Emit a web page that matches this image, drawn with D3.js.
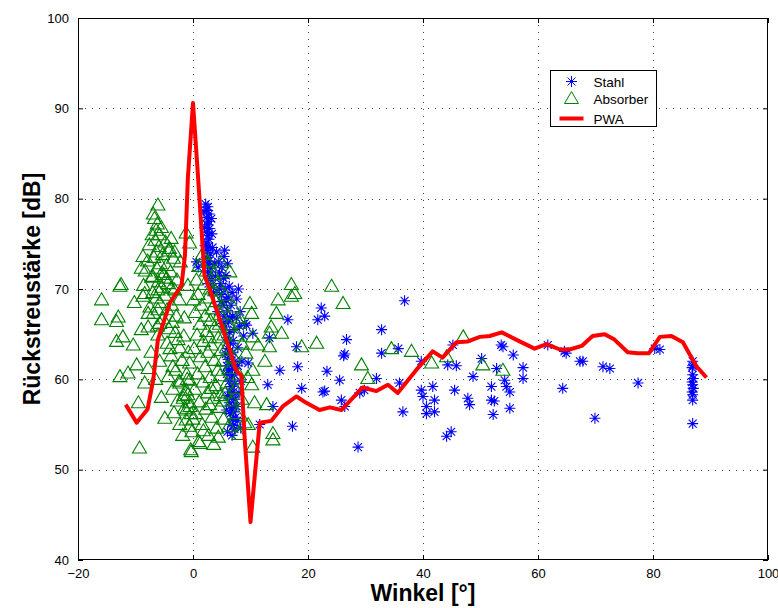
<!DOCTYPE html>
<html>
<head>
<meta charset="utf-8">
<script src="https://cdn.jsdelivr.net/npm/d3@7"></script>
<style>
  body { margin: 0; background: #fff; }
  text { font-family: "Liberation Sans", Arial, sans-serif; }
</style>
</head>
<body>
<svg id="chart" width="778" height="608"></svg>
<script>
// ---- data ----
const xTicks = [-20, 0, 20, 40, 60, 80, 100];
const yTicks = [40, 50, 60, 70, 80, 90, 100];

// Stahl: [winkel, dB]
const stahl = [
  // dense column near 2-3 deg
  [2.2,79.4],[2.6,79.1],[2.4,78.7],[2.8,78.3],[2.3,77.9],[2.7,77.5],[2.5,77.1],[2.9,76.7],
  [2.4,76.3],[2.6,75.9],[2.8,75.5],[2.3,75.1],[2.7,74.7],[2.5,74.3],[3.0,73.9],[2.4,73.5],
  [2.8,73.1],[2.6,72.7],[3.1,72.3],[2.5,71.9],[2.9,71.5],[3.3,71.0],[2.7,70.6],[3.5,70.2],
  [1.9,78.6],[3.2,77.8],[2.0,76.8],[3.3,76.1],[2.1,74.8],[3.4,74.6],
  [0.6,73.0],[0.9,72.4],[4.1,74.1],[5.5,74.3],[3.8,72.8],
  // dense column near 5-7 deg
  [4.4,73.0],[5.0,72.4],[4.6,71.8],[5.3,71.2],[4.8,70.6],[5.6,70.0],[5.0,69.4],[5.8,68.8],
  [5.2,68.2],[6.0,67.6],[5.4,67.0],[6.2,66.4],[5.6,65.8],[6.4,65.2],[5.8,64.6],[6.5,64.0],
  [6.0,63.4],[6.6,62.8],[6.1,62.2],[6.7,61.6],[6.2,61.0],[6.8,60.4],[6.3,59.8],[6.6,59.2],
  [6.4,58.6],[6.8,58.0],[6.3,57.4],[6.7,56.8],[6.5,56.2],[6.9,55.6],[6.6,55.0],[7.2,54.5],
  [6.0,54.2],[7.0,57.0],[5.9,61.5],[7.1,65.5],
  [5.4,73.6],[6.0,72.8],[5.7,71.5],[6.3,70.3],[6.1,69.1],[6.6,68.2],[6.9,67.0],[6.4,66.8],
  [7.0,64.3],[6.9,63.0],[7.3,62.0],[6.9,61.2],[7.2,59.5],[7.0,58.6],[7.3,57.8],[7.1,56.4],
  [7.4,55.8],[7.0,54.9],[5.9,60.6],[6.0,58.2],[5.8,56.6],[5.7,62.8],[6.2,64.3],[5.2,66.2],
  [4.9,68.6],[4.6,70.0],[3.9,71.4],[3.6,69.6],[4.3,67.5],[7.6,68.9],[8.1,65.9],[7.8,61.5],
  [8.3,59.8],[7.7,55.4],[6.8,53.8],
  [7.5,66.8],[8.2,67.5],[9.0,66.2],[7.8,63.5],[8.5,62.0],[9.6,61.8],[7.2,60.5],[8.0,58.5],
  [7.6,57.0],[8.3,54.6],[7.9,70.0],[6.8,69.6],[8.8,64.8],[10.4,65.1],[9.3,66.0],
  // spread 10-37 deg
  [13.3,64.6],[16.5,66.6],[18.0,63.6],[18.2,61.4],[15.1,61.0],[13.0,59.4],[18.9,59.0],
  [13.9,57.0],[11.6,55.0],[17.3,54.8],[22.3,67.9],[21.7,66.6],[22.9,67.0],[26.7,64.4],
  [26.2,62.6],[26.4,62.8],[23.3,60.9],[25.5,59.9],[22.6,58.6],[22.9,58.7],[25.8,57.7],
  [26.4,57.0],[29.0,58.5],[29.8,58.8],[31.9,60.1],[32.8,65.5],[32.8,62.9],[28.7,52.5],
  [35.9,59.6],[36.8,68.7],[35.7,63.4],[36.5,56.4],
  // 38-68 deg
  [39.7,62.0],[45.2,63.8],[44.3,61.6],[45.8,61.5],[39.7,58.8],[40.0,58.1],[41.7,59.2],
  [42.0,57.7],[40.6,57.0],[42.0,56.4],[40.6,56.2],[45.5,58.8],[47.8,57.9],[48.1,57.2],
  [44.9,54.2],[44.1,53.7],[48.7,60.3],[50.2,62.3],[51.9,59.2],[51.9,57.7],[52.4,57.6],
  [52.2,56.1],[52.8,61.2],[53.6,63.8],[53.9,63.6],[54.2,59.9],[54.5,59.2],[55.1,58.6],
  [55.1,56.8],[55.7,62.7],[57.4,61.3],[57.4,60.1],[61.7,63.8],[64.6,63.1],[64.3,59.0],
  [67.3,62.0],[64.9,62.9],[67.8,62.0],
  // 69-90 deg
  [71.3,61.4],[72.5,61.2],[69.9,55.7],[77.4,59.6],[80.3,63.4],[81.2,63.3],
  [86.9,61.5],[86.9,62.0],[86.8,61.3],[86.9,60.5],[87.0,60.1],[86.8,59.7],[86.9,59.4],
  [87.0,59.0],[86.8,58.6],[86.9,58.3],[86.9,57.7],[86.9,55.1]
];

// Absorber: [winkel, dB]
const absorber = [
  // outliers left
  [-6.1,79.3],[-6.7,77.8],[-6.4,76.5],[-5.8,76.0],[-3.8,75.6],[-4.1,74.5],[-3.2,74.1],
  [-6.4,74.1],[-8.7,73.6],[-9.0,72.3],[-5.4,71.8],[-7.0,71.4],[-4.6,71.2],[-12.5,70.5],
  [-12.7,70.3],[-8.4,69.5],[-6.1,69.9],[-3.8,70.1],[-8.7,69.2],[-15.9,68.8],[-7.8,67.3],
  [-13.0,66.9],[-15.9,66.6],[-6.1,67.7],[-5.8,66.2],[-13.3,66.4],[-13.3,64.2],[-12.2,64.7],
  [-10.4,63.8],[-7.8,65.8],[-6.1,64.9],[-9.8,61.6],[-7.8,61.2],[-5.8,62.0],[-12.7,60.3],
  [-11.3,60.7],[-8.4,59.6],[-9.5,57.4],[-4.9,55.7],[-9.3,52.4],[-4.0,63.4],[-3.5,61.4],
  [-1.2,58.8],[-1.7,57.9],[-0.6,57.4],[-1.2,56.6],[-0.3,56.2],[-0.6,54.8],[-0.3,52.0],
  [1.2,52.9],[-2.6,64.4],[-0.6,59.9],[-2.3,59.6],
  // cluster left of peak
  [-6.9,78.3],[-6.2,77.2],[-5.5,76.8],[-7.1,76.0],[-4.8,75.2],[-6.6,75.4],[-5.9,74.7],
  [-7.6,74.9],[-4.2,74.2],[-5.3,73.8],[-6.8,73.5],[-3.4,73.4],[-7.9,73.1],[-5.7,72.8],
  [-4.6,72.6],[-6.3,72.3],[-8.3,72.0],[-3.9,71.9],[-5.1,71.6],[-7.2,71.3],[-2.8,71.0],
  [-6.0,70.8],[-4.4,70.6],[-8.6,70.4],[-5.4,70.2],[-3.2,69.9],[-7.0,69.6],[-4.9,69.3],
  [-6.4,69.0],[-2.4,68.8],[-5.8,68.5],[-3.7,68.2],[-7.5,68.0],[-4.5,67.7],[-6.9,67.3],
  [-2.9,67.0],[-5.2,66.7],[-3.6,66.3],[-6.2,65.9],[-4.2,65.6],
  [-5.5,58.0],[-6.5,60.0],[-7.3,63.0],[-9.0,65.5],[-10.2,68.5],[-1.5,66.8],[0.1,68.8],
  [-0.9,70.4],[1.6,73.8],[-1.2,76.2],[-2.2,73.0],[-1.8,53.8],[-2.3,55.0],[0.0,55.6],
  // cluster below and right of peak
  [-0.6,75.1],[2.6,73.0],[4.9,72.9],[6.4,71.9],
  [1.0,72.5],[2.3,72.0],[3.6,71.6],[0.6,71.0],[1.9,70.5],[4.2,70.7],[3.0,70.0],[0.9,69.4],
  [2.5,69.0],[4.0,68.6],[1.5,68.2],[3.3,67.8],[0.4,67.4],[2.1,67.0],[4.7,67.2],[3.0,66.5],
  [1.2,66.1],[3.8,65.8],[2.4,65.3],[0.7,64.9],[4.4,64.6],[1.8,64.2],[3.2,63.8],[0.2,63.4],
  [2.6,63.0],[4.9,63.2],[1.3,62.5],[3.7,62.1],[-0.6,61.8],[2.1,61.4],[4.3,61.0],[0.8,60.6],
  [3.0,60.2],[-1.0,60.0],[1.7,59.7],[4.0,59.3],[0.3,58.9],[2.5,58.5],[-1.6,58.2],[3.6,57.9],
  [1.1,57.5],[5.2,57.6],[-0.5,57.0],[2.2,56.7],[4.6,56.9],[0.5,56.2],[3.3,55.8],[-1.2,55.5],
  [1.6,55.0],[4.1,54.6],[-0.2,54.2],[2.7,53.8],[1.0,53.1],[-0.4,52.2],[3.6,52.8],
  [3.8,69.8],[5.1,68.0],[4.6,66.1],[5.4,64.9],[2.9,64.6],[5.1,62.0],[4.7,60.4],[5.6,58.5],
  [3.2,59.0],[4.8,58.2],[5.3,55.6],[2.9,57.2],[4.4,53.6],[1.8,54.3],
  [-3.1,65.2],[-1.6,64.8],[-4.5,64.0],[-2.3,63.5],[-0.8,63.0],[-3.8,62.6],[-1.9,62.1],
  [-3.0,61.0],[-1.1,60.6],[-4.3,60.3],[-2.4,59.8],[-3.5,58.9],[-0.9,58.3],[-2.7,57.6],
  [-1.5,56.8],[-3.3,56.3],
  [5.6,69.3],[7.0,68.0],[8.1,66.8],[6.3,66.0],[7.6,64.8],[5.8,63.5],[8.6,63.9],[7.1,62.4],
  [9.2,62.9],[6.4,61.2],[8.0,60.5],[5.9,59.6],[7.4,59.0],[9.5,60.2],[6.8,57.6],[8.5,57.8],
  [7.6,56.2],[9.0,55.2],[6.2,54.8],[8.0,53.9],
  // right of 8 deg
  [17.1,70.5],[17.7,69.5],[17.1,69.2],[24.1,70.3],[26.1,68.4],[14.8,68.8],[9.9,68.4],
  [10.2,67.3],[14.5,67.3],[13.6,65.8],[15.4,65.1],[8.1,66.2],[10.4,64.7],[13.3,65.1],
  [11.3,63.8],[13.3,63.6],[18.9,63.6],[21.5,64.0],[12.5,62.0],[10.4,61.0],[29.3,61.6],
  [30.4,60.1],[10.2,59.4],[10.7,57.4],[12.8,57.2],[9.6,55.0],[13.9,54.0],[13.9,53.3],
  [10.4,52.5],[34.5,63.4],[38.0,63.1],[41.5,61.8],[44.1,62.5],[47.0,64.7],[50.4,61.6],
  [53.9,61.0]
];

// PWA line: [winkel, dB]
const pwa = [
  [-11.7,57.2],[-9.8,55.2],[-7.9,56.7],[-6.9,60.0],[-6.1,64.4],[-4.0,68.5],[-2.0,70.4],
  [-1.4,73.7],[-0.9,82.2],[0.0,90.6],[0.9,82.2],[2.0,71.5],[2.9,70.0],[5.8,64.4],
  [7.5,61.0],[8.4,60.4],[9.0,53.3],[10.0,44.2],[11.6,55.2],[13.6,55.4],[15.6,57.0],
  [18.0,58.1],[19.7,57.4],[22.0,56.6],[23.8,56.9],[25.8,56.6],[29.5,59.1],[31.9,58.7],
  [33.9,59.4],[35.6,58.5],[38.9,61.1],[41.7,63.1],[43.4,62.4],[45.8,64.1],[47.8,64.2],
  [49.9,64.7],[51.6,64.8],[53.7,65.2],[56.8,64.2],[59.4,63.4],[61.5,63.9],[63.8,63.3],
  [65.5,63.3],[67.6,63.7],[69.5,64.8],[71.6,65.0],[73.3,64.4],[75.6,63.0],[77.3,62.9],
  [79.3,62.9],[81.2,64.7],[83.2,64.8],[85.2,64.1],[87.6,61.4],[89.3,60.2]
];

const legendItems = ['Stahl', 'Absorber', 'PWA'];

// ---- layout ----
const mLeft = 78, mRight = 768, mTop = 18, mBottom = 560;
const svg = d3.select('#chart');
svg.append('rect').attr('width', 778).attr('height', 608).attr('fill', '#fff');

const x = d3.scaleLinear().domain([-20, 100]).range([mLeft, mRight]);
const y = d3.scaleLinear().domain([40, 100]).range([mBottom, mTop]);

// grid
const grid = svg.append('g')
  .attr('stroke', '#444')
  .attr('stroke-width', 1)
  .attr('stroke-dasharray', '1,6');
grid.selectAll('.gx')
  .data(xTicks.slice(1, -1))
  .enter()
  .append('line')
  .attr('x1', d => Math.round(x(d)) + 0.5)
  .attr('x2', d => Math.round(x(d)) + 0.5)
  .attr('y1', mTop)
  .attr('y2', mBottom);
grid.selectAll('.gy')
  .data(yTicks.slice(1, -1))
  .enter()
  .append('line')
  .attr('y1', d => Math.round(y(d)) + 0.5)
  .attr('y2', d => Math.round(y(d)) + 0.5)
  .attr('x1', mLeft)
  .attr('x2', mRight);

// axes
const axisFont = g => g.selectAll('text')
  .style('font-family', '"Liberation Sans", Arial, sans-serif')
  .style('font-size', '13px')
  .attr('fill', '#000');

svg.append('g')
  .attr('transform', `translate(0,${mBottom})`)
  .call(d3.axisBottom(x).tickValues(xTicks).tickSizeInner(-5).tickSizeOuter(0).tickPadding(9)
    .tickFormat(d => d < 0 ? '\u2212' + Math.abs(d) : d))
  .call(g => g.select('.domain').remove())
  .call(axisFont);
svg.append('g')
  .attr('transform', `translate(${mLeft},0)`)
  .call(d3.axisLeft(y).tickValues(yTicks).tickSizeInner(-5).tickSizeOuter(0).tickPadding(9))
  .call(g => g.select('.domain').remove())
  .call(axisFont);
svg.append('g')
  .attr('transform', `translate(0,${mTop})`)
  .call(d3.axisTop(x).tickValues(xTicks).tickSizeInner(-5).tickSizeOuter(0).tickFormat(''))
  .call(g => g.select('.domain').remove());
svg.append('g')
  .attr('transform', `translate(${mRight},0)`)
  .call(d3.axisRight(y).tickValues(yTicks).tickSizeInner(-5).tickSizeOuter(0).tickFormat(''))
  .call(g => g.select('.domain').remove());

// clip for data
svg.append('clipPath').attr('id', 'plotclip')
  .append('rect').attr('x', mLeft).attr('y', mTop).attr('width', mRight - mLeft).attr('height', mBottom - mTop);
const plot = svg.append('g').attr('clip-path', 'url(#plotclip)');

// asterisk marker path
const star = r => {
  const d = r * 0.72;
  return `M${-r},0H${r}M0,${-r}V${r}M${-d},${-d}L${d},${d}M${-d},${d}L${d},${-d}`;
};
const tri = 'M0,-7L7,5H-7Z';

plot.append('g')
  .selectAll('path')
  .data(stahl)
  .enter()
  .append('path')
  .attr('transform', d => `translate(${x(d[0])},${y(d[1])})`)
  .attr('d', star(5.5))
  .attr('fill', 'none')
  .attr('stroke', '#0000ff')
  .attr('stroke-width', 1.1);

plot.append('g')
  .selectAll('path')
  .data(absorber)
  .enter()
  .append('path')
  .attr('transform', d => `translate(${x(d[0])},${y(d[1])})`)
  .attr('d', tri)
  .attr('fill', 'none')
  .attr('stroke', '#008000')
  .attr('stroke-width', 1.1);

plot.append('path')
  .datum(pwa)
  .attr('d', d3.line().x(d => x(d[0])).y(d => y(d[1])))
  .attr('fill', 'none')
  .attr('stroke', '#ff0000')
  .attr('stroke-width', 4)
  .attr('stroke-linejoin', 'round');

// frame
svg.append('rect')
  .attr('x', mLeft + 0.5).attr('y', mTop + 0.5)
  .attr('width', mRight - mLeft - 1).attr('height', mBottom - mTop - 1)
  .attr('fill', 'none').attr('stroke', '#000').attr('stroke-width', 1);

// labels
svg.append('text')
  .attr('x', (mLeft + mRight) / 2)
  .attr('y', 601)
  .attr('text-anchor', 'middle')
  .style('font-size', '23px')
  .style('font-weight', 'bold')
  .text('Winkel [°]');
svg.append('text')
  .attr('transform', `translate(40,${(mTop + mBottom) / 2}) rotate(-90)`)
  .attr('text-anchor', 'middle')
  .style('font-size', '23px')
  .style('font-weight', 'bold')
  .text('Rückstreustärke [dB]');

// legend
const lg = svg.append('g').attr('transform', 'translate(550.5,70.5)');
lg.append('rect').attr('width', 106).attr('height', 56).attr('fill', '#fff').attr('stroke', '#000');
const rows = lg.selectAll('g.item')
  .data(legendItems)
  .enter()
  .append('g')
  .attr('class', 'item')
  .attr('transform', (d, i) => `translate(0,${11 + i * 17})`);
rows.filter(d => d === 'Stahl').append('path')
  .attr('transform', 'translate(21,0)').attr('d', star(5.5))
  .attr('fill', 'none').attr('stroke', '#0000ff');
rows.filter(d => d === 'Absorber').append('path')
  .attr('transform', 'translate(21,0)').attr('d', tri)
  .attr('fill', 'none').attr('stroke', '#008000');
rows.filter(d => d === 'PWA').append('line')
  .attr('x1', 9).attr('x2', 33).attr('y1', 3).attr('y2', 3)
  .attr('stroke', '#ff0000').attr('stroke-width', 4);
rows.append('text')
  .attr('x', 43)
  .attr('y', (d, i) => i === 2 ? 8 : 5)
  .style('font-size', '13.5px')
  .text(d => d);
</script>
</body>
</html>
